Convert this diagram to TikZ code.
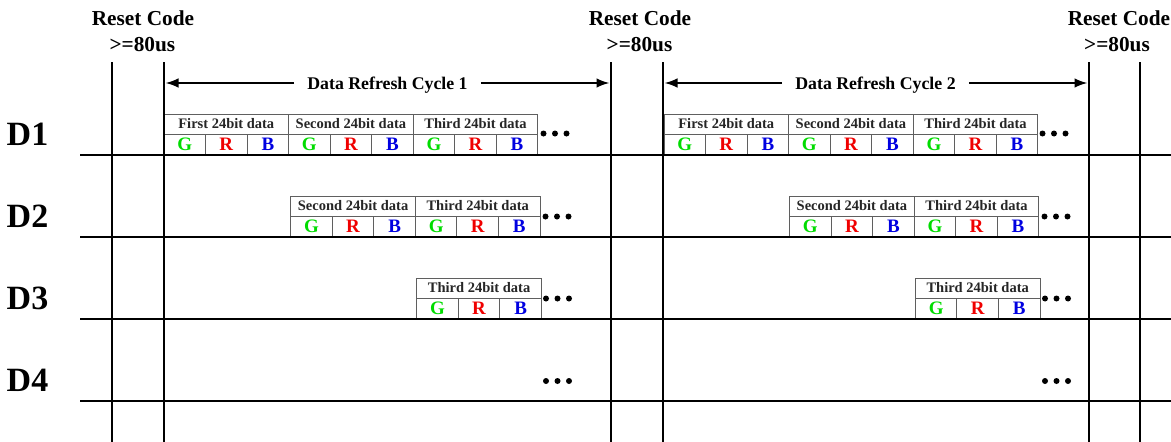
\documentclass[tikz,border=0pt]{standalone}
\usepackage{fontspec}
\setmainfont{Liberation Serif}
\usetikzlibrary{arrows.meta}
\definecolor{gG}{RGB}{0,220,0}
\definecolor{rR}{RGB}{240,0,0}
\definecolor{bB}{RGB}{0,0,225}
\definecolor{boxgray}{RGB}{95,95,95}
\newcommand{\datagrp}[4]{%
  \node[hdr] (#1h) at ({#2},{#3}) {#4};
  \node[cell,text=gG] (#1g) at ({#2},{#3+20}) {G};
  \node[cell,text=rR] (#1r) at ({#2+41.53},{#3+20}) {R};
  \node[cell,text=bB] (#1b) at ({#2+83.07},{#3+20}) {B};
}
\begin{document}
\begin{tikzpicture}[x=1pt,y=-1pt,
  hdr/.style={draw=boxgray, line width=0.9pt, minimum width=124.6pt, minimum height=20pt,
    inner sep=0pt, outer sep=0pt, anchor=north west,
    font=\fontsize{14.5}{14.5}\selectfont\bfseries, text=black!85},
  cell/.style={draw=boxgray, line width=0.9pt, minimum width=41.53pt, minimum height=21pt,
    inner sep=0pt, outer sep=0pt, anchor=north west,
    font=\fontsize{19}{19}\selectfont\bfseries},
  mainline/.style={line width=1.8pt, black},
  arr/.style={line width=1.8pt, -{Latex[length=13pt,width=9.5pt]}},
  toplbl/.style={anchor=base, inner sep=0pt, font=\fontsize{21.3}{21.3}\selectfont\bfseries},
  dlbl/.style={anchor=base, inner sep=0pt, font=\fontsize{34}{34}\selectfont\bfseries},
  cyclbl/.style={anchor=base, inner xsep=13pt, inner ysep=0pt, font=\fontsize{17.8}{17.8}\selectfont\bfseries},
  dot/.style={circle, fill=black, minimum size=6pt, inner sep=0pt}
]
\useasboundingbox (0,0) rectangle (1171,442);
\fill[white] (0,0) rectangle (1171,442);

% data boxes, cycle 1
\datagrp{aa}{164}{114}{First 24bit data}
\datagrp{ab}{288.6}{114}{Second 24bit data}
\datagrp{ac}{413.2}{114}{Third 24bit data}
\datagrp{ba}{290.8}{196}{Second 24bit data}
\datagrp{bb}{415.4}{196}{Third 24bit data}
\datagrp{ca}{416.8}{278}{Third 24bit data}
% data boxes, cycle 2
\datagrp{da}{664}{114}{First 24bit data}
\datagrp{db}{788.6}{114}{Second 24bit data}
\datagrp{dc}{913.2}{114}{Third 24bit data}
\datagrp{ea}{789.6}{196}{Second 24bit data}
\datagrp{eb}{914.2}{196}{Third 24bit data}
\datagrp{fa}{915.4}{278}{Third 24bit data}

% horizontal lines
\foreach \i/\y in {1/155,2/237,3/319,4/401}{
  \coordinate (h\i l) at (80,\y);
  \coordinate (h\i r) at (1171,\y);
  \draw[mainline] (h\i l) -- (h\i r);
}
% vertical lines
\foreach \i/\x in {1/112.3,2/164,3/611,4/662.7,5/1088.7,6/1140.3}{
  \coordinate (v\i t) at (\x,62);
  \coordinate (v\i b) at (\x,442);
  \draw[mainline] (v\i t) -- (v\i b);
}

% top labels
\node[toplbl] (rc1) at (143,25) {Reset Code};
\node[toplbl] (us1) at (142.4,51.7) {>=80us};
\node[toplbl] (rc2) at (640,25) {Reset Code};
\node[toplbl] (us2) at (639.5,51.7) {>=80us};
\node[toplbl] (rc3) at (1119,25) {Reset Code};
\node[toplbl] (us3) at (1117,51.7) {>=80us};

% row labels
\node[dlbl] (D1) at (27.5,145.7) {D1};
\node[dlbl] (D2) at (27.5,227.7) {D2};
\node[dlbl] (D3) at (27.5,309.7) {D3};
\node[dlbl] (D4) at (27.5,391.7) {D4};

% refresh cycle arrows
\coordinate (a1l) at (165.5,83);
\coordinate (a1r) at (609.5,83);
\coordinate (a2l) at (664.5,83);
\coordinate (a2r) at (1087.5,83);
\node[cyclbl] (dr1) at (387.5,89) {Data Refresh Cycle 1};
\node[cyclbl] (dr2) at (875.5,89) {Data Refresh Cycle 2};
\draw[arr] (dr1.west |- a1l) -- (a1l);
\draw[arr] (dr1.east |- a1r) -- (a1r);
\draw[arr] (dr2.west |- a2l) -- (a2l);
\draw[arr] (dr2.east |- a2r) -- (a2r);

% ellipsis dots
\foreach \r/\y/\dx in {1/133.5/-2,2/216.5/0,3/298.5/0.5,4/381/0.5}{
  \node[dot] (p\r a1) at (545.5+\dx,\y) {};
  \node[dot] (p\r a2) at (557+\dx,\y) {};
  \node[dot] (p\r a3) at (568.5+\dx,\y) {};
  \node[dot] (p\r b1) at (1044.5+\dx,\y) {};
  \node[dot] (p\r b2) at (1056+\dx,\y) {};
  \node[dot] (p\r b3) at (1067.5+\dx,\y) {};
}
\end{tikzpicture}
\end{document}
